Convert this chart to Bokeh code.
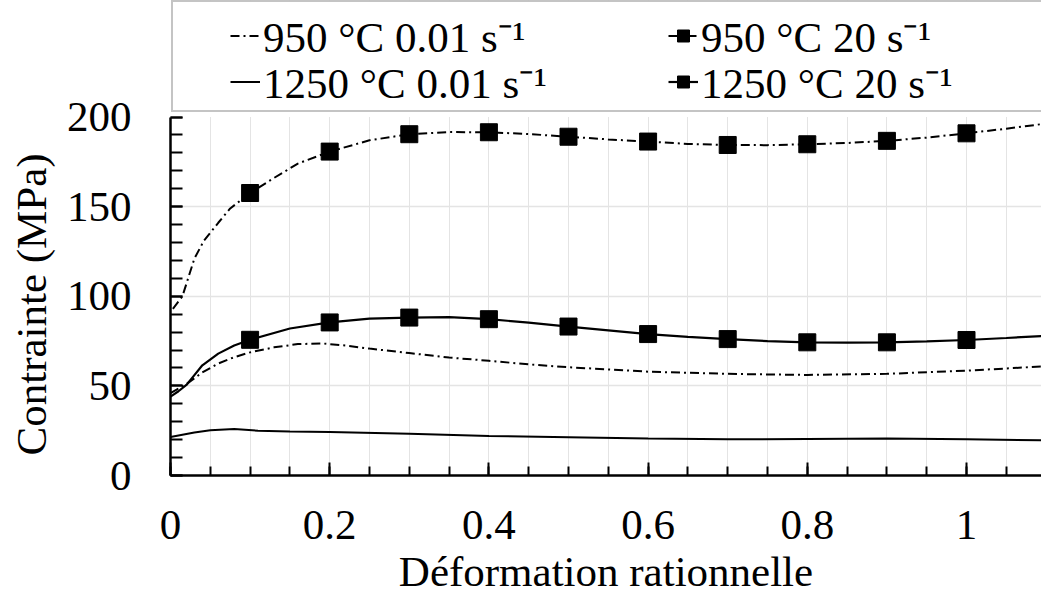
from bokeh.plotting import figure
from bokeh.models import Range1d, FixedTicker, Legend, LegendItem, BoxAnnotation, Title
from bokeh.embed import file_html
from bokeh.resources import INLINE

# ---- data ----
x_950_001 = [0.0, 0.02, 0.04, 0.06, 0.08, 0.1, 0.13, 0.16, 0.19, 0.22, 0.25, 0.3, 0.35, 0.4, 0.45,
             0.5, 0.55, 0.6, 0.7, 0.8, 0.9, 1.0, 1.094]
y_950_001 = [46, 51, 57.5, 62.5, 66, 68.7, 71.5, 73.3, 73.7, 72.5, 70.8, 68.3, 65.8, 64.0, 62.0,
             60.4, 59.2, 57.9, 56.7, 56.1, 56.7, 58.5, 60.8]

x_1250_001 = [0.0, 0.03, 0.05, 0.08, 0.11, 0.15, 0.2, 0.3, 0.4, 0.5, 0.6, 0.7, 0.8, 0.9, 1.0, 1.094]
y_1250_001 = [21.5, 24, 25.2, 26, 25, 24.6, 24.3, 23.3, 22.1, 21.3, 20.6, 20.2, 20.4, 20.6, 20.2, 19.6]

x_950_20 = [0.003, 0.015, 0.03, 0.042, 0.06, 0.075, 0.1, 0.13, 0.16, 0.2, 0.25, 0.3, 0.35, 0.4, 0.45,
            0.5, 0.55, 0.6, 0.65, 0.7, 0.75, 0.8, 0.85, 0.9, 0.95, 1.0, 1.05, 1.094]
y_950_20 = [93, 100, 121, 131, 141, 149, 157.6, 166, 174, 180.7, 187, 190.4, 191.6, 191.5, 190.5,
            189.0, 187.5, 186.3, 185.0, 184.4, 184.3, 184.8, 185.5, 186.7, 188.5, 190.9, 193.5, 196]

x_1250_20 = [0.0, 0.01, 0.02, 0.03, 0.04, 0.06, 0.08, 0.1, 0.15, 0.2, 0.25, 0.3, 0.35, 0.4, 0.45,
             0.5, 0.55, 0.6, 0.65, 0.7, 0.75, 0.8, 0.85, 0.9, 0.95, 1.0, 1.05, 1.094]
y_1250_20 = [44, 47, 50.5, 56, 61.5, 68, 72.5, 75.7, 82, 85.4, 87.5, 88.1, 88.4, 87.2, 85.3,
             83.1, 81.0, 78.9, 77.3, 76.1, 75.0, 74.3, 74.1, 74.3, 74.8, 75.6, 76.7, 77.8]

marker_x = [0.1, 0.2, 0.3, 0.4, 0.5, 0.6, 0.7, 0.8, 0.9, 1.0]
marker_950_20 = [157.6, 180.7, 190.4, 191.5, 189.0, 186.3, 184.4, 184.8, 186.7, 190.9]
marker_1250_20 = [75.7, 85.4, 88.1, 87.2, 83.1, 78.9, 76.1, 74.3, 74.3, 75.6]

x_ticks = [0, 0.2, 0.4, 0.6, 0.8, 1.0]
x_tick_labels = ["0", "0.2", "0.4", "0.6", "0.8", "1"]
y_ticks = [0, 50, 100, 150, 200]
y_tick_labels = ["0", "50", "100", "150", "200"]
y_max = 200

labels = ["950 °C 0.01 s⁻¹", "1250 °C 0.01 s⁻¹", "950 °C 20 s⁻¹", "1250 °C 20 s⁻¹"]
x_title = "Déformation rationnelle"
y_title = "Contrainte (MPa)"

FONT = "Liberation Serif"
DASH = "9 4 2 4"

W, H = 1041, 597
# frame spans the full height above the x axis; the data area ends at y_max,
# the space above it holds the legend
p = figure(width=W, height=H, output_backend="svg", toolbar_location=None,
           x_range=Range1d(0, 1.0942), y_range=Range1d(0, 265),
           min_border_left=170, min_border_right=0, min_border_top=0, min_border_bottom=120)
p.outline_line_color = None
p.background_fill_color = "white"
p.border_fill_color = "white"

# axes
for ax in (p.xaxis[0], p.yaxis[0]):
    ax.axis_line_width = 2.5
    ax.axis_line_color = "black"
    ax.major_tick_line_width = 2
    ax.minor_tick_line_width = 2
    ax.major_tick_out = 0
    ax.minor_tick_out = 0
    ax.major_label_text_font = FONT
    ax.major_label_text_font_size = "43px"
    ax.major_label_text_color = "black"
    ax.major_label_text_line_height = 1.0
    ax.axis_label_text_font = FONT
    ax.axis_label_text_font_size = "43px"
    ax.axis_label_text_font_style = "normal"
    ax.axis_label_text_color = "black"
    ax.axis_label_text_line_height = 1.0

p.xaxis.ticker = FixedTicker(ticks=x_ticks, minor_ticks=[i * 0.05 for i in range(22)])
p.xaxis.major_label_overrides = {t: l for t, l in zip(x_ticks, x_tick_labels)}
p.xaxis.major_tick_in = 13
p.xaxis.minor_tick_in = 9
p.xaxis.major_label_standoff = 35
p.xaxis.axis_label = x_title
p.xaxis.axis_label_standoff = 6

p.yaxis.bounds = (0, y_max)
p.yaxis.ticker = FixedTicker(ticks=y_ticks, minor_ticks=list(range(0, y_max + 1, 10)))
p.yaxis.major_label_overrides = {t: l for t, l in zip(y_ticks, y_tick_labels)}
p.yaxis.major_tick_in = 12
p.yaxis.minor_tick_in = 12
p.yaxis.major_label_standoff = 39

# y title placed along the data part of the axis
p.add_layout(Title(text=y_title, align="left", offset=20, standoff=14,
                   vertical_align="top",
                   text_font=FONT, text_font_size="43px", text_font_style="normal",
                   text_color="black"), "left")

p.xgrid.ticker = FixedTicker(ticks=[i * 0.05 for i in range(1, 22)])
p.xgrid.grid_line_color = "#e4e4e4"
p.xgrid.grid_line_width = 1
p.ygrid.ticker = FixedTicker(ticks=[50, 100, 150])
p.ygrid.grid_line_color = "#e4e4e4"
p.ygrid.grid_line_width = 1.5

# white cover above the data area (hides grid lines there)
p.add_layout(BoxAnnotation(bottom=y_max, fill_color="white", fill_alpha=1,
                           line_alpha=0, level="underlay"))

# series
r1 = p.line(x_950_001, y_950_001, line_color="black", line_width=2, line_dash=DASH)
r2 = p.line(x_1250_001, y_1250_001, line_color="black", line_width=2)
r3l = p.line(x_950_20, y_950_20, line_color="black", line_width=2, line_dash=DASH)
r3m = p.scatter(marker_x, marker_950_20, marker="square", size=17, color="black")
r4l = p.line(x_1250_20, y_1250_20, line_color="black", line_width=2.2)
r4m = p.scatter(marker_x, marker_1250_20, marker="square", size=17, color="black")

# legend box (outline only)
dummy = p.line([], [], line_alpha=0)
box = Legend(items=[LegendItem(label=" ", renderers=[dummy])],
             location=(1, 363), padding=0, margin=0, spacing=0,
             glyph_width=1, glyph_height=108, label_width=867, label_height=108,
             label_standoff=0, label_text_font_size="4px",
             border_line_color="#8a8a8a", border_line_width=2,
             background_fill_alpha=0)
p.add_layout(box, "center")

# one legend per row (950 °C row, 1250 °C row)
legend_rows = [
    ([LegendItem(label=labels[0], renderers=[r1]),
      LegendItem(label=labels[2], renderers=[r3l, r3m])], 410.5),
    ([LegendItem(label=labels[1], renderers=[r2]),
      LegendItem(label=labels[3], renderers=[r4l, r4m])], 364),
]
for items, ypos in legend_rows:
    leg = Legend(items=items, orientation="horizontal",
                 location=(60, ypos), padding=0, margin=0, spacing=0,
                 glyph_width=30, glyph_height=35, label_width=405, label_height=47,
                 label_standoff=3, label_text_font=FONT, label_text_font_size="43px",
                 label_text_color="black",
                 border_line_alpha=0, background_fill_alpha=0)
    p.add_layout(leg, "center")

open("out.html", "w").write(file_html(p, INLINE))
